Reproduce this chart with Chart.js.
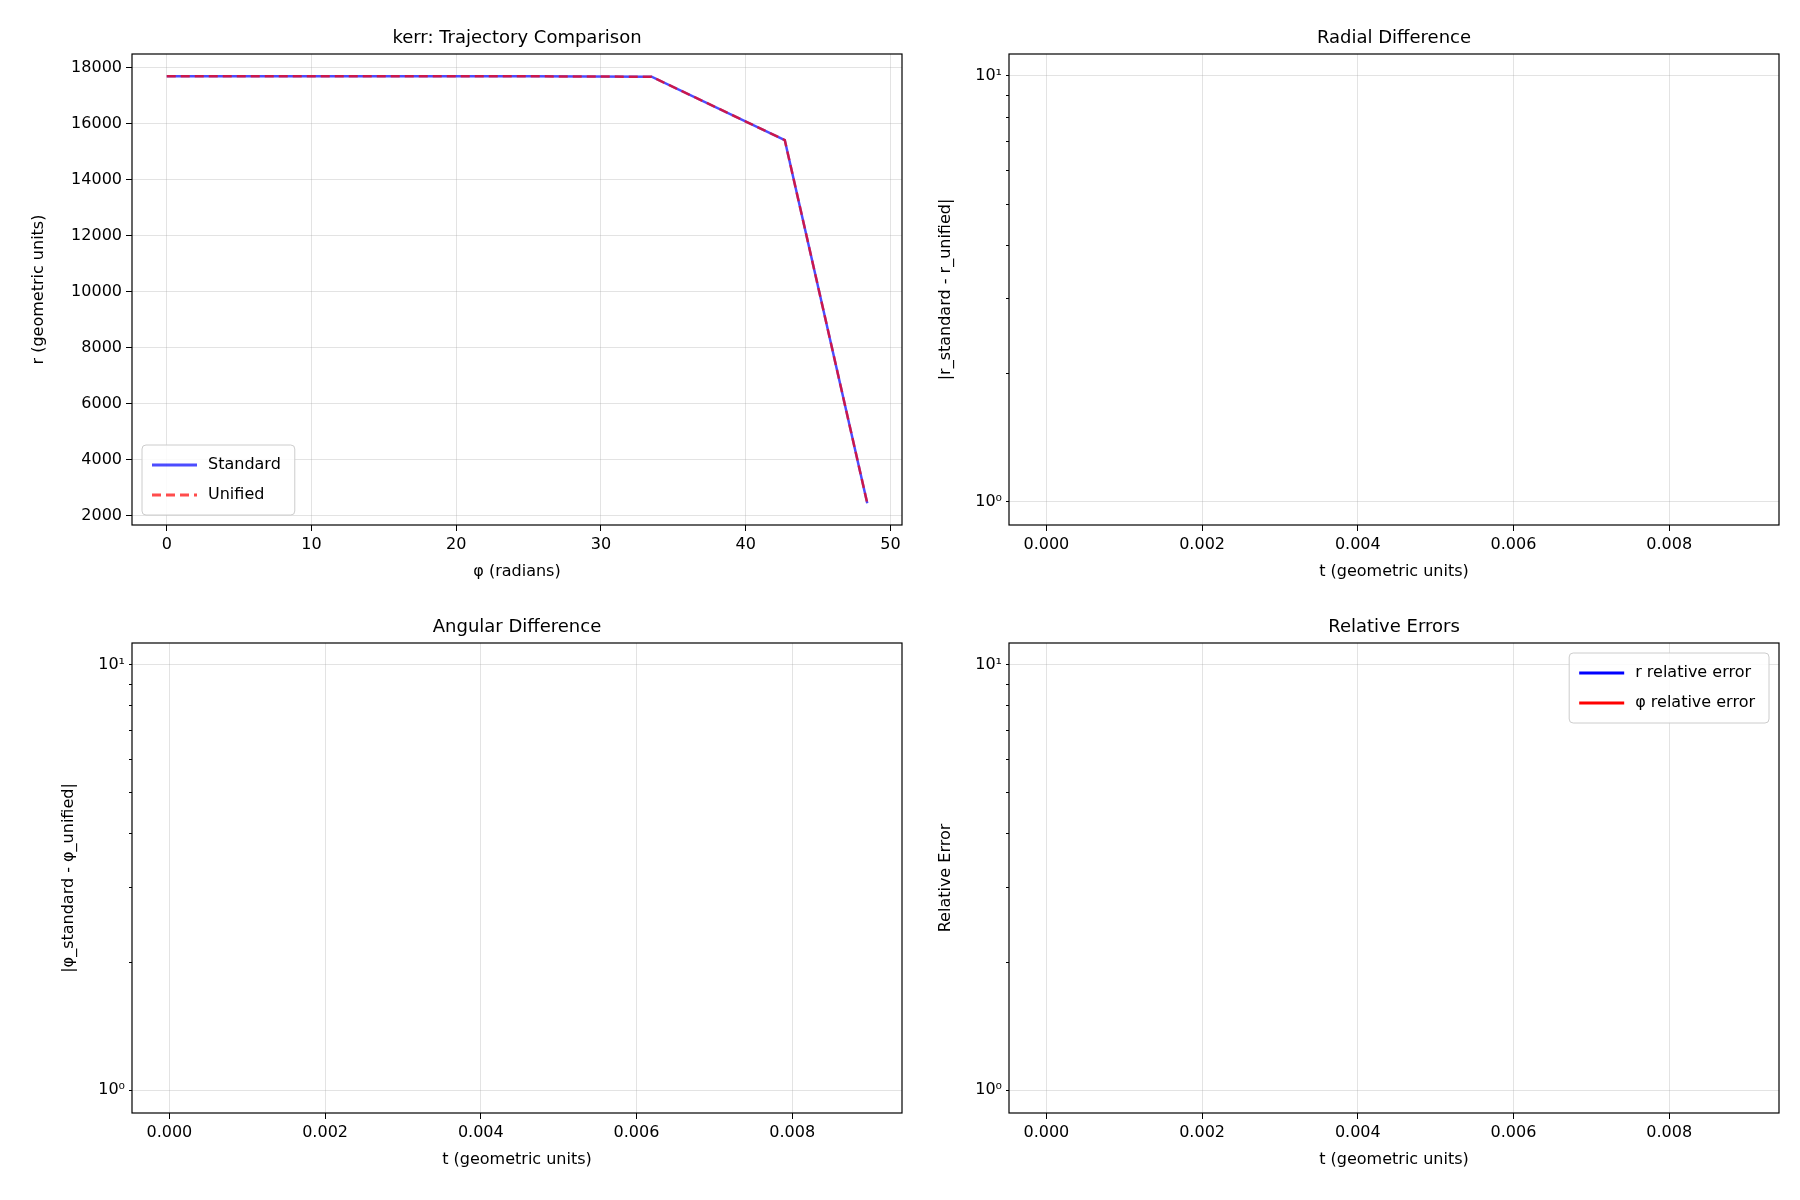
<!DOCTYPE html>
<html>
<head>
<meta charset="utf-8">
<script src="https://cdn.jsdelivr.net/npm/chart.js@4.4.0/dist/chart.umd.min.js"></script>
<style>
  body { margin: 0; background: #fff; width: 1800px; height: 1200px; position: relative; overflow: hidden; }
  canvas { position: absolute; }
</style>
</head>
<body>
<canvas id="traj"></canvas>
<canvas id="radial"></canvas>
<canvas id="angular"></canvas>
<canvas id="relerr"></canvas>
<script>
// trajectory data
const phiValues = [0, 8.4, 16.8, 25.1, 33.5, 42.7, 48.4];
const rStandard = [17700, 17700, 17700, 17695, 17680, 15420, 2450];
const rUnified = [17700, 17700, 17700, 17695, 17680, 15420, 2450];

const phiTicks = [0, 10, 20, 30, 40, 50];
const rTicks = [2000, 4000, 6000, 8000, 10000, 12000, 14000, 16000, 18000];
const tTicks = [0, 0.002, 0.004, 0.006, 0.008];
const logMajor = [1, 10];
const logMinor = [2, 3, 4, 5, 6, 7, 8, 9];

const FONT = 'DejaVu Sans';
Chart.defaults.font.family = FONT;
Chart.defaults.color = '#000';
Chart.defaults.animation = false;

const PAD_L = 115, PAD_T = 45, PAD_R = 20, PAD_B = 75, X_AXIS_H = 58;

// panel plot areas in page pixels
const panels = {
  traj:    { x: 132, y: 54, w: 770, h: 471 },
  radial:  { x: 1009, y: 54, w: 770, h: 471 },
  angular: { x: 132, y: 643, w: 770, h: 470 },
  relerr:  { x: 1009, y: 643, w: 770, h: 470 }
};

function place(id) {
  const p = panels[id];
  const c = document.getElementById(id);
  c.style.left = (p.x - PAD_L) + 'px';
  c.style.top = (p.y - PAD_T) + 'px';
  c.style.width = (p.w + PAD_L + PAD_R) + 'px';
  c.style.height = (p.h + PAD_T + PAD_B) + 'px';
  c.width = p.w + PAD_L + PAD_R;
  c.height = p.h + PAD_T + PAD_B;
  return c;
}

// frame + title + optional legend
function decorPlugin(title, legendItems, legendPos) {
  return {
    id: 'decor',
    afterDraw(chart) {
      const a = chart.chartArea, ctx = chart.ctx;
      ctx.save();
      ctx.strokeStyle = '#000';
      ctx.lineWidth = 1.2;
      ctx.strokeRect(a.left, a.top, a.right - a.left, a.bottom - a.top);
      ctx.fillStyle = '#000';
      ctx.font = '18px ' + FONT;
      ctx.textAlign = 'center';
      ctx.textBaseline = 'bottom';
      ctx.fillText(title, (a.left + a.right) / 2, a.top - 7);
      if (legendItems) {
        ctx.font = '16px ' + FONT;
        const rowH = 30;
        let tw = 0;
        legendItems.forEach(it => tw = Math.max(tw, ctx.measureText(it.label).width));
        const bw = tw + 80, bh = legendItems.length * rowH + 10;
        const bx = legendPos === 'right' ? a.right - bw - 10 : a.left + 10;
        const by = legendPos === 'right' ? a.top + 10 : a.bottom - bh - 10;
        ctx.fillStyle = 'rgba(255,255,255,0.85)';
        ctx.strokeStyle = '#ccc';
        ctx.lineWidth = 1;
        ctx.beginPath();
        ctx.roundRect(bx, by, bw, bh, 4);
        ctx.fill();
        ctx.stroke();
        legendItems.forEach((it, i) => {
          const cy = by + 20 + i * rowH;
          ctx.strokeStyle = it.color;
          ctx.lineWidth = 3;
          ctx.setLineDash(it.dash || []);
          ctx.beginPath();
          ctx.moveTo(bx + 10, cy);
          ctx.lineTo(bx + 55, cy);
          ctx.stroke();
          ctx.setLineDash([]);
          ctx.fillStyle = '#000';
          ctx.textAlign = 'left';
          ctx.textBaseline = 'middle';
          ctx.fillText(it.label, bx + 66, cy);
        });
      }
      ctx.restore();
    }
  };
}

function fixedTicks(values) {
  return scale => { scale.ticks = values.map(v => ({ value: v })); };
}

function axisTitle(text) {
  return { display: true, text: text, font: { size: 16, family: FONT }, padding: 2 };
}

function linearX(min, max, ticks, title, fmt) {
  return {
    type: 'linear', min: min, max: max,
    afterBuildTicks: fixedTicks(ticks),
    afterFit: s => { s.height = X_AXIS_H; },
    ticks: { font: { size: 16 }, maxRotation: 0, padding: 4, callback: fmt },
    grid: { color: 'rgba(176,176,176,0.35)', tickColor: '#000', tickLength: 6 },
    border: { display: false },
    title: axisTitle(title)
  };
}

function isMajor(c) {
  return c && c.tick && logMajor.includes(c.tick.value);
}

function logY(title) {
  return {
    type: 'logarithmic', min: 0.883, max: 11.25,
    afterBuildTicks: fixedTicks(logMajor.concat(logMinor)),
    afterFit: s => { s.width = 75; },
    ticks: {
      font: { size: 16 }, padding: 4,
      callback: v => v === 1 ? '10⁰' : (v === 10 ? '10¹' : '')
    },
    grid: {
      color: c => isMajor(c) ? 'rgba(176,176,176,0.35)' : 'rgba(0,0,0,0)',
      tickColor: '#000',
      tickLength: c => isMajor(c) ? 6 : 3
    },
    border: { display: false },
    title: axisTitle(title)
  };
}

function baseOpts(leftPad) {
  return {
    responsive: false,
    layout: { padding: { top: PAD_T, right: PAD_R, left: leftPad, bottom: PAD_B - X_AXIS_H } },
    plugins: { legend: { display: false }, tooltip: { enabled: false } }
  };
}

// top-left: trajectory comparison
new Chart(place('traj'), {
  type: 'line',
  data: {
    datasets: [
      {
        label: 'Standard', order: 1,
        data: phiValues.map((p, i) => ({ x: p, y: rStandard[i] })),
        borderColor: 'rgba(0,0,255,0.7)', borderWidth: 2.5, pointRadius: 0, tension: 0
      },
      {
        label: 'Unified', order: 0,
        data: phiValues.map((p, i) => ({ x: p, y: rUnified[i] })),
        borderColor: 'rgba(255,0,0,0.7)', borderWidth: 2.5, borderDash: [9, 5], pointRadius: 0, tension: 0
      }
    ]
  },
  options: {
    ...baseOpts(10),
    scales: {
      x: linearX(-2.4, 50.8, phiTicks, 'φ (radians)', v => String(v)),
      y: {
        type: 'linear', min: 1672, max: 18492,
        afterBuildTicks: fixedTicks(rTicks),
        afterFit: s => { s.width = PAD_L - 10; },
        ticks: { font: { size: 16 }, padding: 4, callback: v => String(v) },
        grid: { color: 'rgba(176,176,176,0.35)', tickColor: '#000', tickLength: 6 },
        border: { display: false },
        title: axisTitle('r (geometric units)')
      }
    }
  },
  plugins: [decorPlugin('kerr: Trajectory Comparison', [
    { label: 'Standard', color: 'rgba(0,0,255,0.7)' },
    { label: 'Unified', color: 'rgba(255,0,0,0.7)', dash: [9, 5] }
  ], 'left')]
});

function emptyLogPanel(id, title, yTitle, legend) {
  new Chart(place(id), {
    type: 'line',
    data: {
      datasets: [
        { label: 'r relative error', data: [], borderColor: '#0000ff' },
        { label: 'φ relative error', data: [], borderColor: '#ff0000' }
      ]
    },
    options: {
      ...baseOpts(PAD_L - 75),
      scales: {
        x: linearX(-0.00048, 0.00941, tTicks, 't (geometric units)', v => v.toFixed(3)),
        y: logY(yTitle)
      }
    },
    plugins: [decorPlugin(title, legend, 'right')]
  });
}

emptyLogPanel('radial', 'Radial Difference', '|r_standard - r_unified|', null);
emptyLogPanel('angular', 'Angular Difference', '|φ_standard - φ_unified|', null);
emptyLogPanel('relerr', 'Relative Errors', 'Relative Error', [
  { label: 'r relative error', color: '#0000ff' },
  { label: 'φ relative error', color: '#ff0000' }
]);
</script>
</body>
</html>
